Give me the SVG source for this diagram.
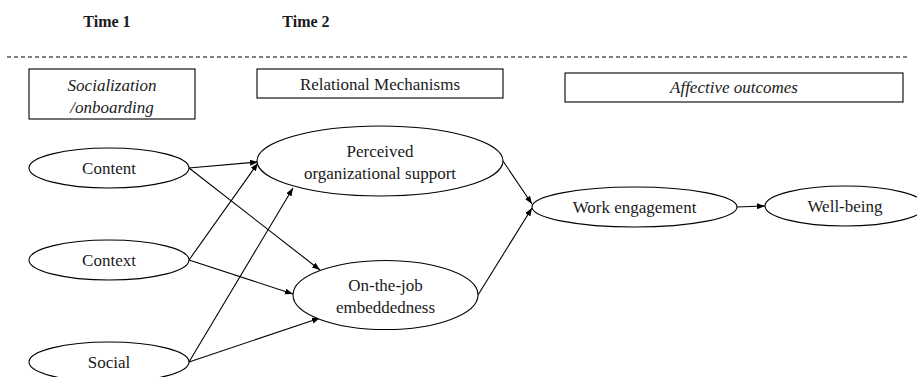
<svg xmlns="http://www.w3.org/2000/svg" width="917" height="377" viewBox="0 0 917 377">
<style>
text{font-family:"Liberation Serif","Times New Roman",serif;font-size:17px;fill:#1a1a1a;text-anchor:middle}
.b{font-weight:bold;font-size:16px}
.i{font-style:italic}
.n{fill:#fff;stroke:#000;stroke-width:1.1}
.c{fill:none;stroke:#000;stroke-width:1.1;marker-end:url(#ah)}
</style>
<defs>
<marker id="ah" markerUnits="userSpaceOnUse" markerWidth="9" markerHeight="7" refX="8" refY="3" orient="auto">
<path d="M0,0 L8,3 L0,6 z" fill="#000"/>
</marker>
</defs>
<rect width="917" height="377" fill="#fff"/>
<g id="time-labels">
<text class="b" x="107" y="27">Time 1</text>
<text class="b" x="306" y="27">Time 2</text>
<line x1="7" y1="57" x2="908" y2="57" stroke="#000" stroke-width="1" stroke-dasharray="4,3"/>
</g>
<g id="box-socialization">
<rect class="n" x="29" y="69" width="166" height="50"/>
<text class="i" x="112" y="91">Socialization</text>
<text class="i" x="112" y="113">/onboarding</text>
</g>
<g id="box-relational">
<rect class="n" x="257" y="69" width="246" height="29"/>
<text x="380" y="90">Relational Mechanisms</text>
</g>
<g id="box-affective">
<rect class="n" x="565" y="73" width="338" height="29"/>
<text class="i" x="734" y="93">Affective outcomes</text>
</g>
<g id="connectors">
<line class="c" x1="189" y1="168" x2="258" y2="162"/>
<line class="c" x1="189" y1="168" x2="320" y2="270"/>
<line class="c" x1="189" y1="260" x2="258" y2="163"/>
<line class="c" x1="189" y1="260" x2="293" y2="294"/>
<line class="c" x1="189" y1="362" x2="293" y2="188"/>
<line class="c" x1="189" y1="362" x2="320" y2="318"/>
<line class="c" x1="503" y1="161" x2="532" y2="204"/>
<line class="c" x1="478" y1="295" x2="532" y2="208"/>
<line class="c" x1="737" y1="207" x2="765" y2="206"/>
</g>
<g id="node-content">
<ellipse class="n" cx="109" cy="168" rx="80" ry="20"/>
<text x="109" y="174">Content</text>
</g>
<g id="node-context">
<ellipse class="n" cx="109" cy="260" rx="80" ry="20"/>
<text x="109" y="266">Context</text>
</g>
<g id="node-social">
<ellipse class="n" cx="109" cy="362" rx="80" ry="20"/>
<text x="109" y="368">Social</text>
</g>
<g id="node-pos">
<ellipse class="n" cx="380" cy="161" rx="123" ry="35"/>
<text x="380" y="157">Perceived</text>
<text x="380" y="179">organizational support</text>
</g>
<g id="node-oje">
<ellipse class="n" cx="385.5" cy="295" rx="92.5" ry="34.5"/>
<text x="385.5" y="291">On-the-job</text>
<text x="385.5" y="313">embeddedness</text>
</g>
<g id="node-we">
<ellipse class="n" cx="634.5" cy="207" rx="102.5" ry="20"/>
<text x="634.5" y="213">Work engagement</text>
</g>
<g id="node-wb">
<ellipse class="n" cx="845" cy="206" rx="80" ry="20"/>
<text x="845" y="212">Well-being</text>
</g>
</svg>
